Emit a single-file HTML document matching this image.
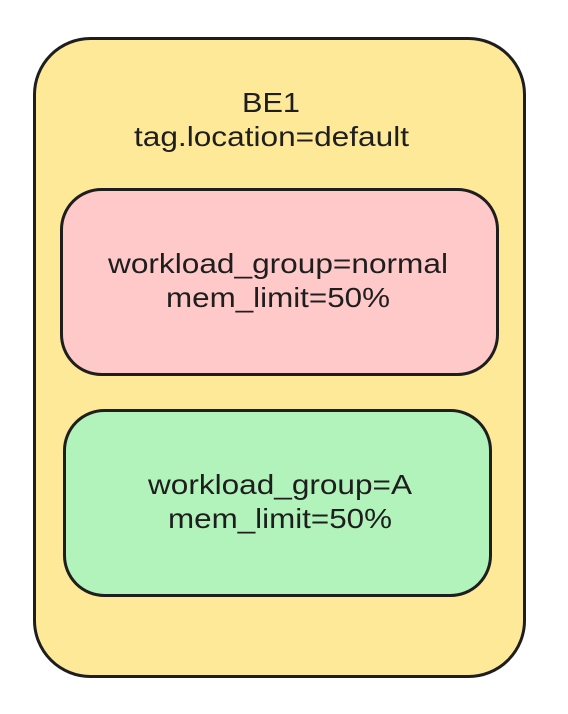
<!DOCTYPE html>
<html><head><style>html,body{margin:0;padding:0;background:#fff;}svg{display:block}</style></head>
<body>
<svg width="568" height="714" viewBox="0 0 568 714" xmlns="http://www.w3.org/2000/svg">
<rect x="34.5" y="38.5" width="490" height="638" rx="56" fill="#fee998" stroke="#1e1e1e" stroke-width="3"/>
<rect x="61.5" y="189.5" width="436" height="185" rx="40" fill="#ffc9c9" stroke="#1e1e1e" stroke-width="3"/>
<rect x="64.5" y="410.5" width="426" height="185" rx="40" fill="#b2f2bb" stroke="#1e1e1e" stroke-width="3"/>
<g font-family="Liberation Sans, Arial, sans-serif" font-size="28" fill="#1e1e1e">
<text x="242" y="112" textLength="58" lengthAdjust="spacingAndGlyphs">BE1</text>
<text x="134" y="146" textLength="275" lengthAdjust="spacingAndGlyphs">tag.location=default</text>
<text x="108" y="273" textLength="340" lengthAdjust="spacingAndGlyphs">workload_group=normal</text>
<text x="166" y="307" textLength="224" lengthAdjust="spacingAndGlyphs">mem_limit=50%</text>
<text x="148" y="494" textLength="264" lengthAdjust="spacingAndGlyphs">workload_group=A</text>
<text x="168" y="528" textLength="224" lengthAdjust="spacingAndGlyphs">mem_limit=50%</text>
</g>
</svg>
</body></html>
